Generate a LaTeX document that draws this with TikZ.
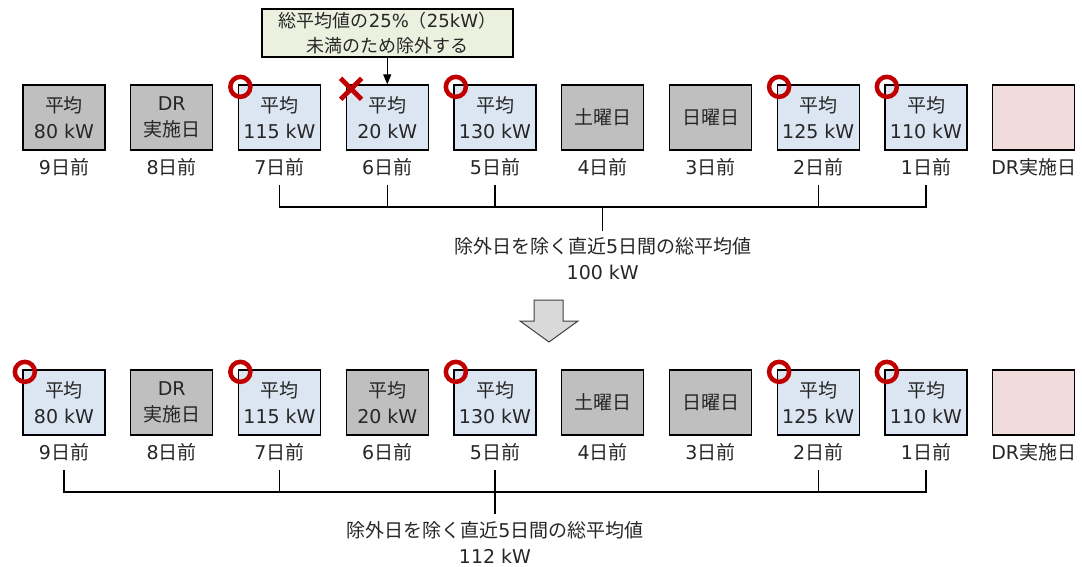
\documentclass[tikz,border=0pt]{standalone}
\usepackage{fontspec}
\setmainfont{Noto Sans CJK JP}
\newfontfamily\latf{DejaVu Sans}[Scale=1.0]
\newcommand{\lt}[1]{{\latf #1}}
\usetikzlibrary{arrows.meta}
\definecolor{boxgray}{HTML}{BFBFBF}
\definecolor{boxblue}{HTML}{DCE6F2}
\definecolor{boxpink}{HTML}{F2DCDB}
\definecolor{callgreen}{HTML}{EBF1DE}
\definecolor{okred}{HTML}{C00000}
\definecolor{arrgray}{HTML}{D9D9D9}
\definecolor{txt}{HTML}{262626}
\begin{document}
\begin{tikzpicture}[x=1pt,y=-1pt,
  every node/.style={font=\fontsize{19}{26}\selectfont, text=txt},
  daybox/.style={draw=black, line width=1.3pt, minimum width=82pt, minimum height=65pt, inner sep=0pt, align=center},
  graybox/.style={daybox, fill=boxgray},
  bluebox/.style={daybox, fill=boxblue},
  pinkbox/.style={daybox, fill=boxpink},
  daylbl/.style={inner sep=0pt},
  sumlbl/.style={inner sep=7pt, align=center},
  callout/.style={draw=black, line width=1.1pt, fill=callgreen, minimum width=251pt, minimum height=48pt, inner sep=0pt, align=center, font=\fontsize{18}{25}\selectfont},
  bracket/.style={draw=black, line width=1.2pt},
  okmark/.style={draw=okred, line width=4.5pt},
  ngmark/.style={draw=okred, line width=4.8pt},
  bigarrow/.style={draw=black!75, line width=1pt, fill=arrgray, line join=miter},
  pointer/.style={draw=black, line width=1.1pt, -{Triangle[length=10pt,width=8pt]}}
]
\useasboundingbox (0,0) rectangle (1082,567);

% ---------- top row ----------
\node[graybox] (a1) at (64,117.5) {平均\\\lt{80 kW}};
\node[graybox] (a2) at (171.75,117.5) {\lt{DR}\\実施日};
\node[bluebox] (a3) at (279.5,117.5) {平均\\\lt{115 kW}};
\node[bluebox] (a4) at (387.25,117.5) {平均\\\lt{20 kW}};
\node[bluebox] (a5) at (495,117.5) {平均\\\lt{130 kW}};
\node[graybox] (a6) at (602.75,117.5) {土曜日};
\node[graybox] (a7) at (710.5,117.5) {日曜日};
\node[bluebox] (a8) at (818.25,117.5) {平均\\\lt{125 kW}};
\node[bluebox] (a9) at (926,117.5) {平均\\\lt{110 kW}};
\node[pinkbox] (a10) at (1033.75,117.5) {};

\node[daylbl] (p1) at (64,167) {\lt{9}日前};
\node[daylbl] (p2) at (171.75,167) {\lt{8}日前};
\node[daylbl] (p3) at (279.5,167) {\lt{7}日前};
\node[daylbl] (p4) at (387.25,167) {\lt{6}日前};
\node[daylbl] (p5) at (495,167) {\lt{5}日前};
\node[daylbl] (p6) at (602.75,167) {\lt{4}日前};
\node[daylbl] (p7) at (710.5,167) {\lt{3}日前};
\node[daylbl] (p8) at (818.25,167) {\lt{2}日前};
\node[daylbl] (p9) at (926,167) {\lt{1}日前};
\node[daylbl] (p10) at (1033.75,167) {\lt{DR}実施日};

\node[callout] (note) at (387.5,33) {総平均値の\lt{25\%}（\lt{25kW}）\\未満のため除外する};
\draw[pointer] (a4.north |- note.south) -- (a4.north);

\draw[okmark] ([xshift=2.5pt,yshift=-2.5pt]a3.north west) circle (10pt);
\draw[okmark] ([xshift=2.5pt,yshift=-2.5pt]a5.north west) circle (10pt);
\draw[okmark] ([xshift=2.5pt,yshift=-2.5pt]a8.north west) circle (10pt);
\draw[okmark] ([xshift=2.5pt,yshift=-2.5pt]a9.north west) circle (10pt);
\coordinate (ng) at ([xshift=5.5pt,yshift=-4.5pt]a4.north west);
\draw[ngmark] ([xshift=-10.5pt,yshift=10.5pt]ng) -- ([xshift=10.5pt,yshift=-10.5pt]ng);
\draw[ngmark] ([xshift=-10.5pt,yshift=-10.5pt]ng) -- ([xshift=10.5pt,yshift=10.5pt]ng);

\coordinate (tk1) at (0,185);
\coordinate (bar1) at (602.75,207);
\node[sumlbl] (s1) at (602.75,259) {除外日を除く直近\lt{5}日間の総平均値\\\lt{100 kW}};
\draw[bracket] (p3 |- tk1) -- (p3 |- bar1) -- (p9 |- bar1) -- (p9 |- tk1);
\draw[bracket] (p4 |- tk1) -- (p4 |- bar1);
\draw[bracket] (p5 |- tk1) -- (p5 |- bar1);
\draw[bracket] (p8 |- tk1) -- (p8 |- bar1);
\draw[bracket] (bar1) -- (bar1 |- s1.north);

% ---------- big arrow ----------
\draw[bigarrow] (534,300) -- (563,300) -- (563,321) -- (578,321) -- (549,342) -- (520,321) -- (534,321) -- cycle;

% ---------- bottom row ----------
\node[bluebox] (b1) at (64,402.5) {平均\\\lt{80 kW}};
\node[graybox] (b2) at (171.75,402.5) {\lt{DR}\\実施日};
\node[bluebox] (b3) at (279.5,402.5) {平均\\\lt{115 kW}};
\node[graybox] (b4) at (387.25,402.5) {平均\\\lt{20 kW}};
\node[bluebox] (b5) at (495,402.5) {平均\\\lt{130 kW}};
\node[graybox] (b6) at (602.75,402.5) {土曜日};
\node[graybox] (b7) at (710.5,402.5) {日曜日};
\node[bluebox] (b8) at (818.25,402.5) {平均\\\lt{125 kW}};
\node[bluebox] (b9) at (926,402.5) {平均\\\lt{110 kW}};
\node[pinkbox] (b10) at (1033.75,402.5) {};

\node[daylbl] (q1) at (64,452) {\lt{9}日前};
\node[daylbl] (q2) at (171.75,452) {\lt{8}日前};
\node[daylbl] (q3) at (279.5,452) {\lt{7}日前};
\node[daylbl] (q4) at (387.25,452) {\lt{6}日前};
\node[daylbl] (q5) at (495,452) {\lt{5}日前};
\node[daylbl] (q6) at (602.75,452) {\lt{4}日前};
\node[daylbl] (q7) at (710.5,452) {\lt{3}日前};
\node[daylbl] (q8) at (818.25,452) {\lt{2}日前};
\node[daylbl] (q9) at (926,452) {\lt{1}日前};
\node[daylbl] (q10) at (1033.75,452) {\lt{DR}実施日};

\draw[okmark] ([xshift=2.5pt,yshift=-2.5pt]b1.north west) circle (10pt);
\draw[okmark] ([xshift=2.5pt,yshift=-2.5pt]b3.north west) circle (10pt);
\draw[okmark] ([xshift=2.5pt,yshift=-2.5pt]b5.north west) circle (10pt);
\draw[okmark] ([xshift=2.5pt,yshift=-2.5pt]b8.north west) circle (10pt);
\draw[okmark] ([xshift=2.5pt,yshift=-2.5pt]b9.north west) circle (10pt);

\coordinate (tk2) at (0,470);
\coordinate (bar2) at (495,492);
\node[sumlbl] (s2) at (495,542) {除外日を除く直近\lt{5}日間の総平均値\\\lt{112 kW}};
\draw[bracket] (q1 |- tk2) -- (q1 |- bar2) -- (q9 |- bar2) -- (q9 |- tk2);
\draw[bracket] (q3 |- tk2) -- (q3 |- bar2);
\draw[bracket] (q5 |- tk2) -- (q5 |- bar2);
\draw[bracket] (q8 |- tk2) -- (q8 |- bar2);
\draw[bracket] (bar2) -- (bar2 |- s2.north);
\end{tikzpicture}
\end{document}
